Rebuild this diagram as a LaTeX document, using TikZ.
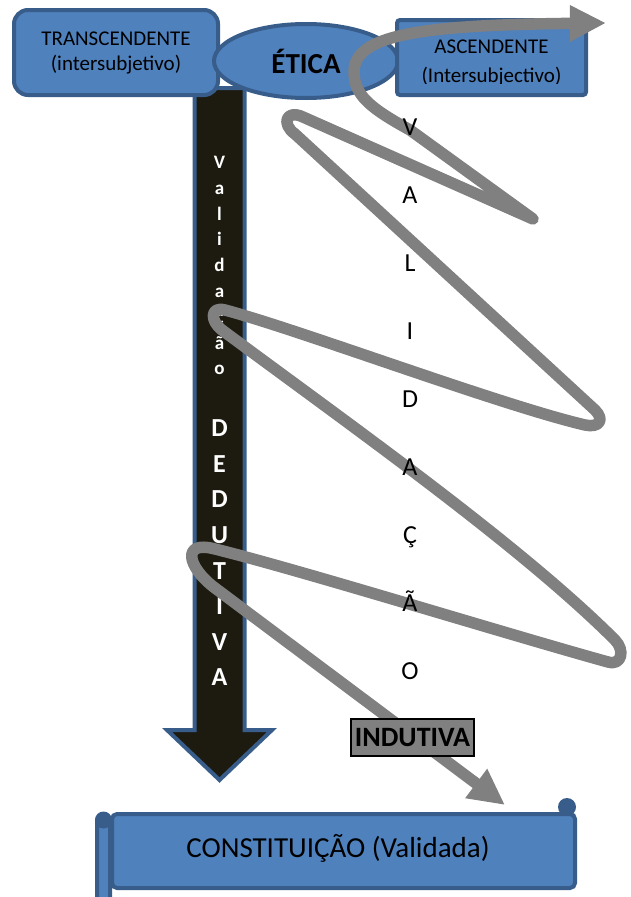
\documentclass[tikz,border=0pt]{standalone}
\usepackage{fontspec}
\setmainfont{Carlito}
\usepackage{tikz}
\usetikzlibrary{arrows.meta,shapes.geometric}
\definecolor{boxblue}{HTML}{4F81BD}
\definecolor{boxedge}{HTML}{385D8A}
\definecolor{shaftdark}{HTML}{1D1B10}
\definecolor{loopgray}{HTML}{808080}

\begin{document}
\begin{tikzpicture}[x=1pt,y=1pt,
  bluebox/.style={draw=boxedge,line width=4pt,fill=boxblue,align=center,inner sep=0pt},
  lettercol/.style={anchor=north,inner sep=0pt,align=center},
  loopline/.style={draw=loopgray,line width=11.5pt,line join=round,line cap=round}]
\useasboundingbox (0,0) rectangle (630,-897);
\draw[draw=boxedge,line width=4pt,fill=shaftdark] (194.5,-88) -- (194.5,-730) -- (167,-730) -- (219.5,-780) -- (272,-730) -- (244.5,-730) -- (244.5,-88) -- cycle;
\node[lettercol,text=white,font=\bfseries\fontsize{19}{25.8}\selectfont] (valsmall) at (219.5,-156) {V\\a\\l\\i\\d\\a\\ç\\ã\\o};
\node[lettercol,text=white,font=\bfseries\fontsize{26}{35.6}\selectfont] (dedut) at (219.5,-419.6) {D\\E\\D\\U\\T\\I\\V\\A};
\node[bluebox,rounded corners=14pt,minimum width=204pt,minimum height=85pt,font=\fontsize{21}{25}\selectfont] (trans) at (116,-52.5) {TRANSCENDENTE\\(intersubjetivo)};
\node[bluebox,ellipse,minimum width=184pt,minimum height=74pt,font=\bfseries\fontsize{29}{30}\selectfont] (etica) at (306,-61) {ÉTICA};
\node[bluebox,rounded corners=3pt,minimum width=189pt,minimum height=75pt] (ascend) at (491.5,-57.5) {};
\begin{scope}
\clip (399,-22) rectangle (584,-83);
\node[lettercol,font=\fontsize{21}{29}\selectfont] (asctext) at (491.5,-40) {ASCENDENTE\\(Intersubjectivo)};
\end{scope}
\node[bluebox,rounded corners=5pt,minimum width=463pt,minimum height=74pt] (constit) at (343.5,-851) {};
\node[font=\fontsize{29}{32}\selectfont,inner sep=0pt] (constext) at (338,-848) {CONSTITUIÇÃO (Validada)};
\draw[draw=boxedge,line width=4pt,fill=boxblue,rounded corners=7pt] (97,-910) rectangle (110,-814);
\fill[boxedge] (103.5,-820) circle (8.5pt);
\fill[boxedge] (567,-807) circle (9pt);
\coordinate (loopstart) at (606,-23);
\coordinate (loopend) at (505,-805);
\draw[loopline,{Triangle[length=36pt,width=34pt]}-{Triangle[length=36pt,width=34pt]}] (loopstart)
  .. controls (420,-25) and (354,-35) .. (354,-72)
  .. controls (354,-95) and (370,-108) .. (410,-130)
  -- (533,-219) -- (303,-117)
  .. controls (286,-109) and (281,-124) .. (295,-134)
  -- (595,-410)
  .. controls (605,-420) and (599,-428) .. (585,-425)
  .. controls (500,-405) and (300,-330) .. (225,-310)
  .. controls (210,-306) and (210,-321) .. (222,-330)
  .. controls (350,-425) and (520,-545) .. (615,-640)
  .. controls (625,-650) and (622,-666) .. (608,-662)
  .. controls (500,-632) and (300,-570) .. (215,-549)
  .. controls (181,-540) and (187,-567) .. (215,-588)
  -- (loopend);
\node[lettercol,font=\fontsize{26}{68}\selectfont] (valcol) at (410,-118.6) {V\\A\\L\\I\\D\\A\\Ç\\Ã\\O};
\node[draw=black,line width=2pt,fill=loopgray,inner sep=0pt,minimum width=123pt,minimum height=37pt,font=\bfseries\fontsize{28}{30}\selectfont] (indut) at (412.5,-737.5) {INDUTIVA};
\end{tikzpicture}
\end{document}
